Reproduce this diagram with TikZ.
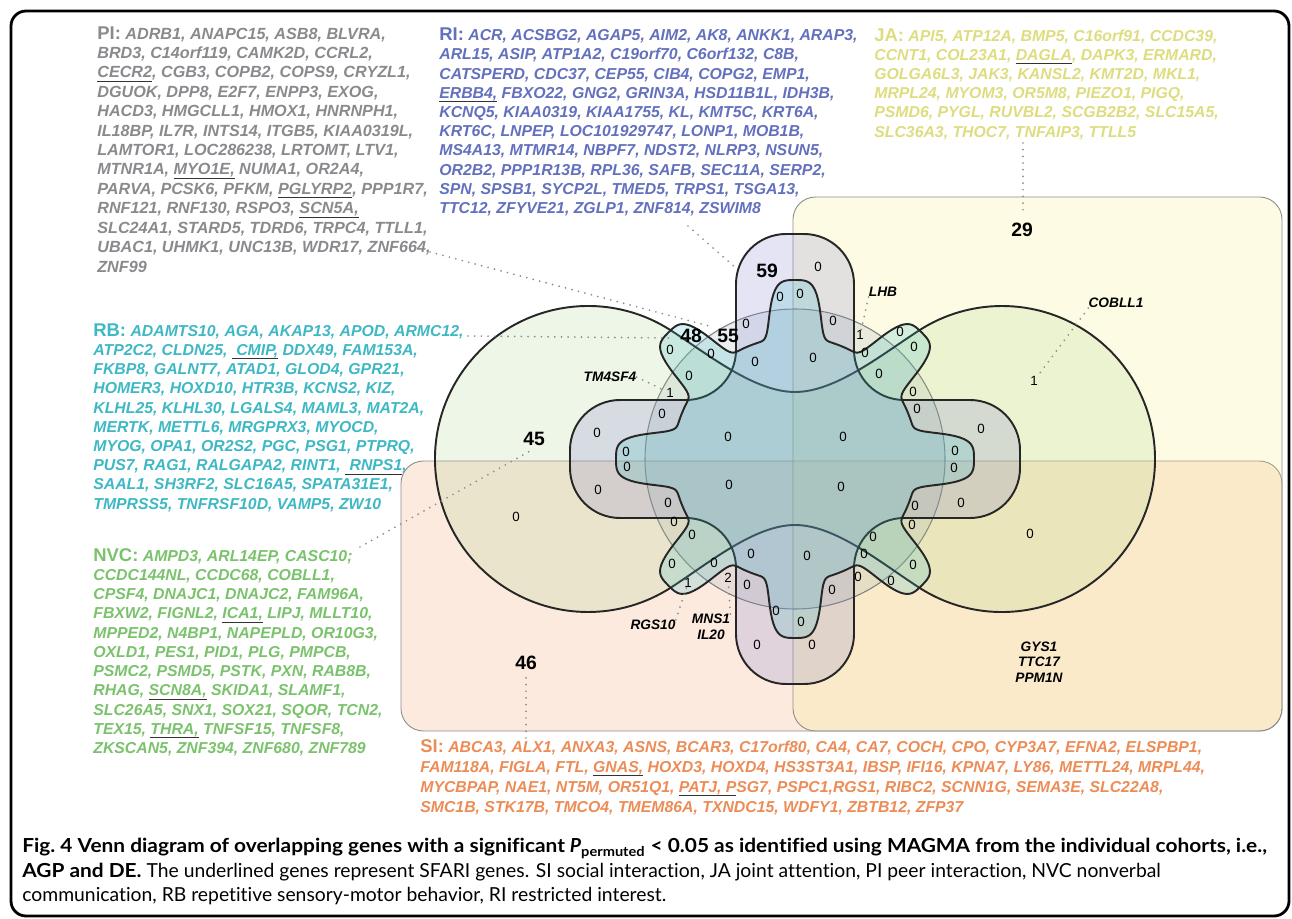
\documentclass[tikz,border=0pt]{standalone}
\usepackage{fontspec}
\setmainfont{Liberation Sans}
\newfontfamily\capfont[Ligatures=NoCommon, BoldFeatures={FakeStretch=1.08}]{Lato}
\usepackage{xcolor}
\usetikzlibrary{
    calc
}
\definecolor{piText}{RGB}{138,138,142}
\definecolor{riText}{RGB}{98,112,190}
\definecolor{jaText}{RGB}{221,221,128}
\definecolor{rbText}{RGB}{62,184,196}
\definecolor{nvcText}{RGB}{122,194,108}
\definecolor{siText}{RGB}{236,140,86}
\definecolor{siFill}{RGB}{240,150,95}
\definecolor{jaFill}{RGB}{245,236,120}
\definecolor{piFill}{RGB}{150,170,180}
\definecolor{nvcFill}{RGB}{160,205,120}
\definecolor{riFill}{RGB}{130,130,205}
\definecolor{rbFill}{RGB}{70,190,200}
\newcommand{\genefont}{\fontsize{9}{10.95}\selectfont\bfseries\itshape}
\newcommand{\setlab}[1]{{\fontsize{10.5}{10.95}\selectfont\upshape #1}}
\newlength{\sfariwd}
\newcommand{\sfari}[1]{\settowidth{\sfariwd}{#1}\leavevmode\rlap{\textcolor{black!80}{\rule[-2.3pt]{\sfariwd}{0.7pt}}}#1}
\tikzset{
    vennline/.style={
        draw=black!85,
        line width=1.1pt,
        fill opacity=0.22
    }
}
\tikzset{
    halfplane/.style={
        draw=black!45,
        line width=0.5pt,
        rounded corners=0.45cm,
        fill opacity=0.2
    }
}
\tikzset{
    genelist/.style={
        anchor=north west,
        inner sep=0pt,
        align=left,
        font=\genefont
    }
}
\tikzset{
    bigcount/.style={
        font=\fontsize{11}{12}\selectfont\bfseries,
        inner sep=0pt
    }
}
\tikzset{
    zero/.style={
        font=\fontsize{7.6}{8}\selectfont,
        inner sep=0pt
    }
}
\tikzset{
    genename/.style={
        font=\fontsize{7.8}{8.9}\selectfont\bfseries\itshape,
        inner sep=0pt,
        align=center
    }
}
\tikzset{
    leader/.style={
        draw=black!45,
        line width=1.1pt,
        line cap=round,
        dash pattern=on 0pt off 3.8pt
    }
}

\begin{document}
\begin{tikzpicture}[
    x=0.02cm, y=-0.02cm,
    declare function={rbq(\t)=abs(mod(\t+382.5,45)-22.5)/10.5; rbr(\t)=122+57*exp(-rbq(\t)^4);}
]
\useasboundingbox (0,0) rectangle (1292,919);

% ------------------------------------------------------------
% Frame
% ------------------------------------------------------------
\draw[line width=1.6pt, rounded corners=0.3cm] (11,11) rectangle (1289,916);

% ------------------------------------------------------------
% Venn sets: SI and JA half planes, PI circle, NVC, RI, RB
% ------------------------------------------------------------
\draw[halfplane, fill=siFill] (401,461) rectangle (1282,731);
\draw[halfplane, fill=jaFill] (793,197) rectangle (1282,731);
\draw[draw=black!50, line width=0.6pt, fill=piFill, fill opacity=0.2] (795,459) circle[radius=150];

% NVC: two round lobes joined by two sagging arcs
\draw[vennline, fill=nvcFill, fill opacity=0.18]
    ($(588,459)+(-57:153)$) arc[start angle=-57, end angle=-303, radius=153]
    .. controls +(38.6,-25.1) and (755,525) .. (795,525)
    .. controls (835,525) and ($(1002,459)+(123:153)+(-38.6,-25.1)$) .. ($(1002,459)+(123:153)$)
    arc[start angle=123, end angle=-123, radius=153]
    .. controls +(-38.6,25.1) and (835,392) .. (795,392)
    .. controls (755,392) and ($(588,459)+(-57:153)+(38.6,25.1)$) .. cycle;

% RI: four-armed cross
\draw[vennline, fill=riFill, rounded corners=1cm]
    (736,234) -- (854,234) -- (854,400) -- (1020,400) -- (1020,518) -- (854,518)
    -- (854,684) -- (736,684) -- (736,518) -- (570,518) -- (570,400) -- (736,400) -- cycle;

% RB: eight teeth round the circle
\draw[vennline, fill=rbFill]
    plot[domain=0:360, samples=481, variable=\t] ({795+rbr(\t)*cos(\t)}, {459+rbr(\t)*sin(\t)}) -- cycle;

% ------------------------------------------------------------
% Region counts
% ------------------------------------------------------------
\node[bigcount] (n59) at (767,271) {59};
\node[bigcount] (n48) at (691,336) {48};
\node[bigcount] (n55) at (728,336) {55};
\node[bigcount] (n45) at (534,439) {45};
\node[bigcount] (n29) at (1022,230) {29};
\node[bigcount] (n46) at (526,663) {46};

\foreach \px/\py [count=\k] in {
    818/267, 780/297, 800/294, 746/324, 833/321, 865/353, 900/332, 879/374,
    670/350, 711/354, 755/362, 813/358, 689/376, 662/414, 597/433, 728/437,
    843/437, 626/452, 627/467, 598/490, 729/485, 841/487, 668/503, 674/522,
    516/517, 692/535, 672/564, 714/563, 747/585, 751/554, 807/556, 873/537,
    864/554, 858/577, 891/581, 832/590, 776/611, 801/622, 757/645, 812/645,
    914/347, 913/392, 917/409, 981/429, 955/451, 954/468, 961/503, 915/506,
    912/525, 1030/534, 913/565}
    \node[zero] (z\k) at (\px,\py) {0};

\node[zero] (oTM) at (670,393) {1};
\node[zero] (oLHB) at (860,335) {1};
\node[zero] (oCOB) at (1034,381) {1};
\node[zero] (oRGS) at (688,583) {1};
\node[zero] (tMNS) at (728,578) {2};

% ------------------------------------------------------------
% Single genes in small regions
% ------------------------------------------------------------
\node[genename] (gTM) at (610,377) {TM4SF4};
\node[genename] (gLHB) at (883,292) {LHB};
\node[genename] (gCOB) at (1116,303) {COBLL1};
\node[genename] (gRGS) at (653,625) {RGS10};
\node[genename] (gMNS) at (711,627) {MNS1\\IL20};
\node[genename] (gGYS) at (1039,662) {GYS1\\TTC17\\PPM1N};

% ------------------------------------------------------------
% Gene lists
% ------------------------------------------------------------
\node[genelist, text=piText, font=\fontsize{9.2}{11.05}\selectfont\bfseries\itshape] (pilist) at (97,26) {
    \setlab{PI:} ADRB1, ANAPC15, ASB8, BLVRA,\\
    BRD3, C14orf119, CAMK2D, CCRL2,\\
    \sfari{CECR2}, CGB3, COPB2, COPS9, CRYZL1,\\
    DGUOK, DPP8, E2F7, ENPP3, EXOG,\\
    HACD3, HMGCLL1, HMOX1, HNRNPH1,\\
    IL18BP, IL7R, INTS14, ITGB5, KIAA0319L,\\
    LAMTOR1, LOC286238, LRTOMT, LTV1,\\
    MTNR1A, \sfari{MYO1E,} NUMA1, OR2A4,\\
    PARVA, PCSK6, PFKM, \sfari{PGLYRP2}, PPP1R7,\\
    RNF121, RNF130, RSPO3, \sfari{SCN5A,}\\
    SLC24A1, STARD5, TDRD6, TRPC4, TTLL1,\\
    UBAC1, UHMK1, UNC13B, WDR17, ZNF664,\\
    ZNF99};

\node[genelist, text=riText] (rilist) at (439,27.5) {
    \setlab{RI:} ACR, ACSBG2, AGAP5, AIM2, AK8, ANKK1, ARAP3,\\
    ARL15, ASIP, ATP1A2, C19orf70, C6orf132, C8B,\\
    CATSPERD, CDC37, CEP55, CIB4, COPG2, EMP1,\\
    \sfari{ERBB4,} FBXO22, GNG2, GRIN3A, HSD11B1L, IDH3B,\\
    KCNQ5, KIAA0319, KIAA1755, KL, KMT5C, KRT6A,\\
    KRT6C, LNPEP, LOC101929747, LONP1, MOB1B,\\
    MS4A13, MTMR14, NBPF7, NDST2, NLRP3, NSUN5,\\
    OR2B2, PPP1R13B, RPL36, SAFB, SEC11A, SERP2,\\
    SPN, SPSB1, SYCP2L, TMED5, TRPS1, TSGA13,\\
    TTC12, ZFYVE21, ZGLP1, ZNF814, ZSWIM8};

\node[genelist, text=jaText] (jalist) at (874,28) {
    \setlab{JA:} API5, ATP12A, BMP5, C16orf91, CCDC39,\\
    CCNT1, COL23A1, \sfari{DAGLA}, DAPK3, ERMARD,\\
    GOLGA6L3, JAK3, KANSL2, KMT2D, MKL1,\\
    MRPL24, MYOM3, OR5M8, PIEZO1, PIGQ,\\
    PSMD6, PYGL, RUVBL2, SCGB2B2, SLC15A5,\\
    SLC36A3, THOC7, TNFAIP3, TTLL5};

\node[genelist, text=rbText] (rblist) at (93,323) {
    \setlab{RB:} ADAMTS10, AGA, AKAP13, APOD, ARMC12,\\
    ATP2C2, CLDN25, \sfari{ CMIP,} DDX49, FAM153A,\\
    FKBP8, GALNT7, ATAD1, GLOD4, GPR21,\\
    HOMER3, HOXD10, HTR3B, KCNS2, KIZ,\\
    KLHL25, KLHL30, LGALS4, MAML3, MAT2A,\\
    MERTK, METTL6, MRGPRX3, MYOCD,\\
    MYOG, OPA1, OR2S2, PGC, PSG1, PTPRQ,\\
    PUS7, RAG1, RALGAPA2, RINT1, \sfari{ RNPS1},\\
    SAAL1, SH3RF2, SLC16A5, SPATA31E1,\\
    TMPRSS5, TNFRSF10D, VAMP5, ZW10};

\node[genelist, text=nvcText] (nvclist) at (93,548) {
    \setlab{NVC:} AMPD3, ARL14EP, CASC10;\\
    CCDC144NL, CCDC68, COBLL1,\\
    CPSF4, DNAJC1, DNAJC2, FAM96A,\\
    FBXW2, FIGNL2, \sfari{ICA1,} LIPJ, MLLT10,\\
    MPPED2, N4BP1, NAPEPLD, OR10G3,\\
    OXLD1, PES1, PID1, PLG, PMPCB,\\
    PSMC2, PSMD5, PSTK, PXN, RAB8B,\\
    RHAG, \sfari{SCN8A,} SKIDA1, SLAMF1,\\
    SLC26A5, SNX1, SOX21, SQOR, TCN2,\\
    TEX15, \sfari{THRA,} TNFSF15, TNFSF8,\\
    ZKSCAN5, ZNF394, ZNF680, ZNF789};

\node[genelist, text=siText, font=\fontsize{9}{11.4}\selectfont\bfseries\itshape] (silist) at (420,739) {
    \setlab{SI:} ABCA3, ALX1, ANXA3, ASNS, BCAR3, C17orf80, CA4, CA7, COCH, CPO, CYP3A7, EFNA2, ELSPBP1,\\
    FAM118A, FIGLA, FTL, \sfari{GNAS,} HOXD3, HOXD4, HS3ST3A1, IBSP, IFI16, KPNA7, LY86, METTL24, MRPL44,\\
    MYCBPAP, NAE1, NT5M, OR51Q1, \sfari{PATJ, P}SG7, PSPC1,RGS1, RIBC2, SCNN1G, SEMA3E, SLC22A8,\\
    SMC1B, STK17B, TMCO4, TMEM86A, TXNDC15, WDFY1, ZBTB12, ZFP37};

% ------------------------------------------------------------
% Dotted leaders from the lists and genes to their regions
% ------------------------------------------------------------
\coordinate (piA) at (430,252);   \coordinate (piB) at (713,327);
\coordinate (riA) at (688,226);   \coordinate (riB) at (736,268);
\coordinate (rbA) at (468,336);   \coordinate (rbB) at (672,338);
\coordinate (nvcA) at (360,547);  \coordinate (nvcB) at (530,451);
\coordinate (jaA) at (1023,143);  \coordinate (jaB) at (1023,214);
\coordinate (siA) at (526,738);   \coordinate (siB) at (526,675);
\draw[leader] (piA) -- (piB);
\draw[leader] (riA) -- (riB);
\draw[leader] (rbA) -- (rbB);
\draw[leader] (nvcA) -- (nvcB);
\draw[leader] (jaA) -- (jaB);
\draw[leader] (siA) -- (siB);
\draw[leader] (gTM.east) -- (oTM);
\draw[leader] (gLHB.south west) -- (oLHB);
\draw[leader] (gCOB.south west) -- (oCOB);
\draw[leader] (gRGS.north east) -- (oRGS);
\draw[leader] (gMNS.north east) -- (tMNS);

% ------------------------------------------------------------
% Caption
% ------------------------------------------------------------
\node[anchor=north west, inner sep=0pt, align=left, font=\capfont\fontsize{11}{13.9}\selectfont] (caption) at (22,838) {
    \textbf{Fig.~4 Venn diagram of overlapping genes with a significant \textit{P}\textsubscript{permuted} < 0.05 as identified using MAGMA from the individual cohorts, i.e.,}\\
    \textbf{AGP and DE.} The underlined genes represent SFARI genes. SI social interaction, JA joint attention, PI peer interaction, NVC nonverbal\\
    communication, RB repetitive sensory-motor behavior, RI restricted interest.};

\end{tikzpicture}
\end{document}
